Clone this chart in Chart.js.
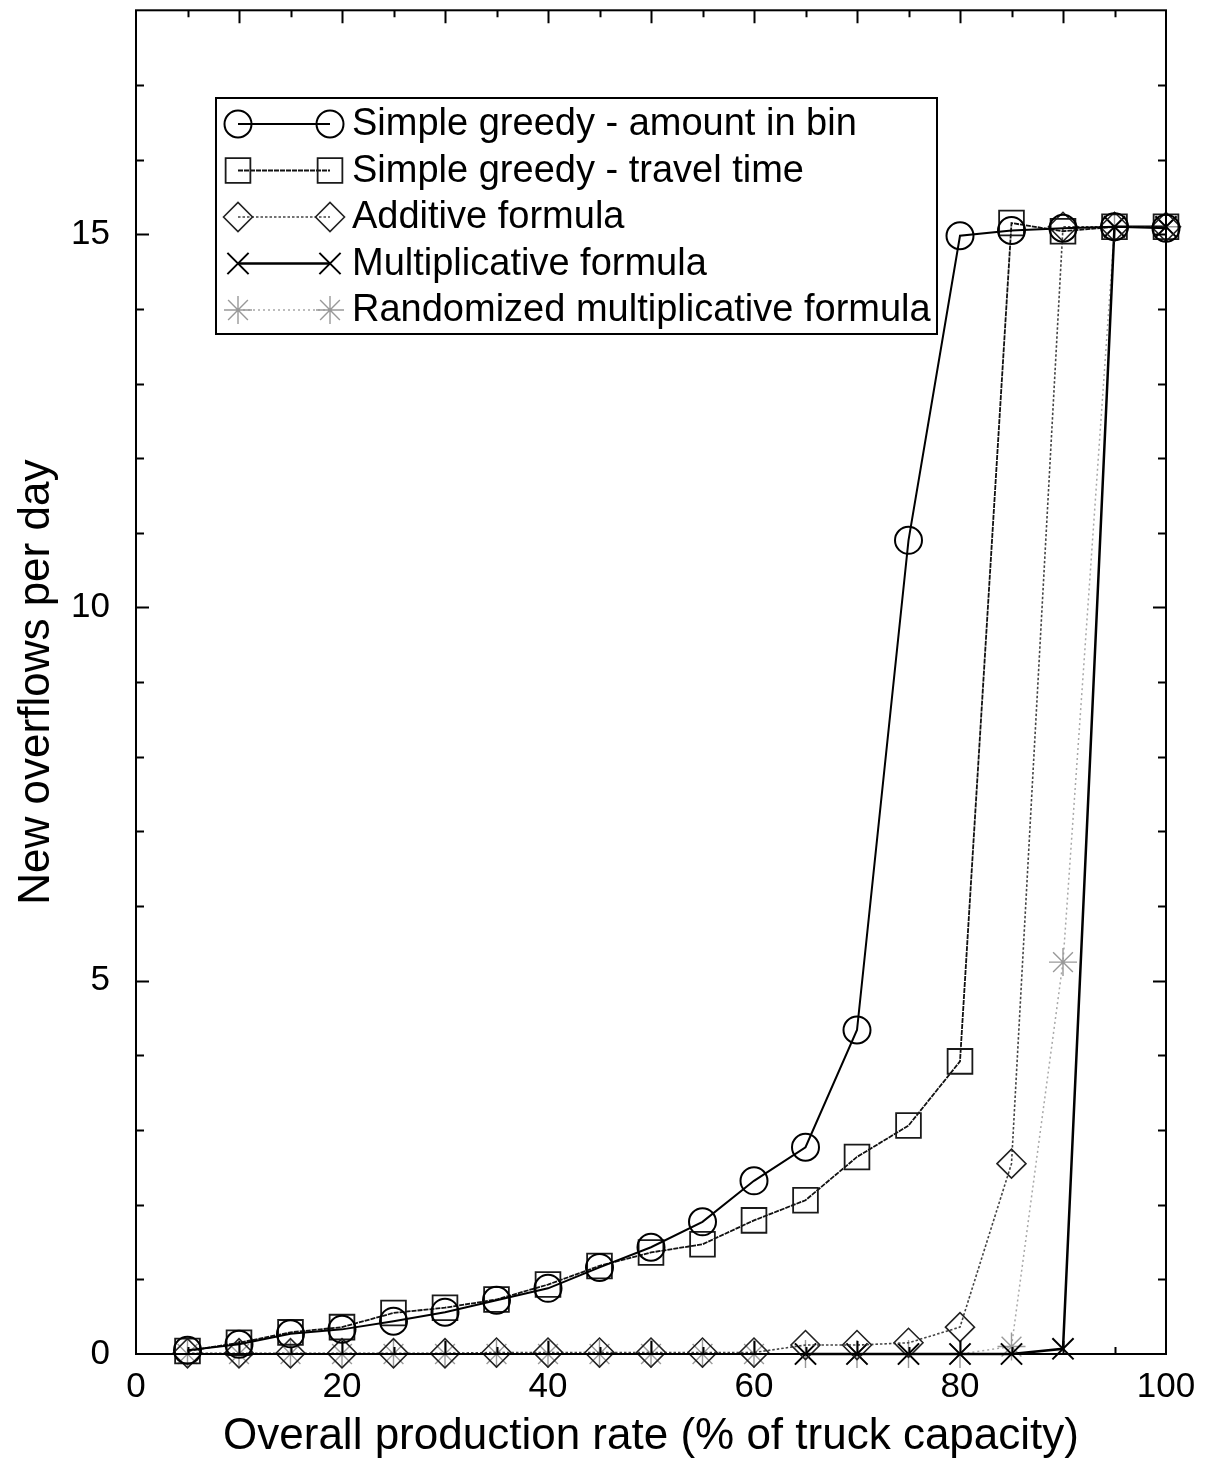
<!DOCTYPE html>
<html>
<head>
<meta charset="utf-8">
<title>New overflows per day</title>
<script src="https://cdn.jsdelivr.net/npm/chart.js@4.4.1/dist/chart.umd.min.js"></script>
<style>
  html, body { margin: 0; padding: 0; background: #fff; overflow: hidden; }
  /* Chart.js keeps 18px above the plot; pull the canvas up so the frame sits near the top */
  #chart { display: block; margin-top: -9px; }
</style>
</head>
<body>
<canvas id="chart" width="1211" height="1472"></canvas>
<script>
/* ── Data ───────────────────────────────────────────────────── */
/* Production rate in % of truck capacity */
const rates = [5, 10, 15, 20, 25, 30, 35, 40, 45, 50, 55, 60, 65, 70, 75, 80, 85, 90, 95, 100];

/* New overflows per day for each strategy */
const greedyAmount = [0.05, 0.13, 0.27, 0.33, 0.44, 0.56, 0.72, 0.88, 1.16, 1.43,
                      1.77, 2.32, 2.77, 4.34, 10.9, 14.98, 15.05, 15.08, 15.1, 15.08];
const greedyTravel = [0.04, 0.15, 0.29, 0.36, 0.55, 0.62, 0.73, 0.93, 1.18, 1.36,
                      1.47, 1.79, 2.06, 2.64, 3.06, 3.92, 15.15, 15.04, 15.1, 15.1];
const additive     = [0.01, 0.01, 0.01, 0.01, 0.01, 0.01, 0.02, 0.02, 0.02, 0.02,
                      0.02, 0.02, 0.12, 0.12, 0.15, 0.36, 2.55, 15.1, 15.1, 15.1];
const multiplicative = [null, null, null, null, null, null, null, null, null, null,
                        null, null, 0, 0, 0, 0, 0, 0.07, 15.1, 15.1];
const randomizedMult = [0, 0, 0, 0, 0, 0, 0, 0, 0, 0,
                        0, 0, 0, 0, 0, 0, 0.1, 5.25, 15.1, 15.1];

const seriesLabels = [
  "Simple greedy - amount in bin",
  "Simple greedy - travel time",
  "Additive formula",
  "Multiplicative formula",
  "Randomized multiplicative formula",
];

/* Axis ticks */
const xTickLabels = [0, 20, 40, 60, 80, 100];
const yTickLabels = [0, 5, 10, 15];

const FONT = "'Liberation Sans', Arial, Helvetica, sans-serif";
const SHIFT = 9; /* canvas is pulled up by this much */

/* ── Inward ticks + frame, gnuplot style ────────────────────── */
const framePlugin = {
  id: "frame",
  afterDatasetsDraw(chart) {
    const { ctx, chartArea: a, scales: { x, y } } = chart;
    ctx.save();
    ctx.strokeStyle = "#000";
    ctx.lineWidth = 2;
    ctx.beginPath();
    /* x ticks every 5, long ones every 10 */
    for (let v = 5; v < 100; v += 5) {
      const px = Math.round(x.getPixelForValue(v)) + 0.5;
      const len = v % 10 === 0 ? 13 : 7;
      ctx.moveTo(px, a.bottom); ctx.lineTo(px, a.bottom - len);
      ctx.moveTo(px, a.top);    ctx.lineTo(px, a.top + len);
    }
    /* y ticks every 1, long ones every 5 */
    for (let v = 1; v < 18; v++) {
      const py = Math.round(y.getPixelForValue(v)) + 0.5;
      const len = v % 5 === 0 ? 13 : 8;
      ctx.moveTo(a.left, py);  ctx.lineTo(a.left + len, py);
      ctx.moveTo(a.right, py); ctx.lineTo(a.right - len, py);
    }
    ctx.stroke();
    ctx.strokeRect(a.left, a.top, a.right - a.left, a.bottom - a.top);
    ctx.restore();
  },
};

/* ── Boxed legend inside the plot ───────────────────────────── */
const legendBox = {
  id: "legendBox",
  afterDraw(chart) {
    const ctx = chart.ctx;
    const box = { x: 216, y: 98 + SHIFT, w: 721, h: 236 };
    ctx.save();
    ctx.fillStyle = "#fff";
    ctx.fillRect(box.x, box.y, box.w, box.h);
    ctx.strokeStyle = "#000";
    ctx.lineWidth = 2;
    ctx.strokeRect(box.x, box.y, box.w, box.h);

    chart.data.datasets.forEach((ds, i) => {
      const rowY = 124 + SHIFT + i * 46.5;
      const x0 = 238, x1 = 330;
      ctx.save();
      ctx.strokeStyle = ds.borderColor;
      ctx.lineWidth = ds.borderWidth;
      ctx.setLineDash(ds.borderDash || []);
      ctx.beginPath();
      ctx.moveTo(x0, rowY);
      ctx.lineTo(x1, rowY);
      ctx.stroke();
      ctx.restore();

      [x0, x1].forEach((px) => {
        ctx.save();
        ctx.strokeStyle = ds.pointBorderColor;
        ctx.fillStyle = "rgba(0,0,0,0)";
        ctx.lineWidth = ds.pointBorderWidth;
        Chart.helpers.drawPoint(ctx, {
          pointStyle: ds.pointStyle,
          radius: ds.pointRadius,
          rotation: 0,
          borderWidth: ds.pointBorderWidth,
        }, px, rowY);
        ctx.restore();
      });

      ctx.fillStyle = "#000";
      ctx.font = "38px " + FONT;
      ctx.textBaseline = "middle";
      ctx.textAlign = "left";
      ctx.fillText(ds.label, 352, rowY + 1);
    });
    ctx.restore();
  },
};

/* ── Dataset factory ────────────────────────────────────────── */
function series(label, values, style) {
  return Object.assign({
    label,
    data: rates.map((r, i) => ({ x: r, y: values[i] })),
    backgroundColor: "rgba(0,0,0,0)",
    pointBackgroundColor: "rgba(0,0,0,0)",
    fill: false,
    tension: 0,
    spanGaps: false,
    clip: false,
  }, style);
}

const datasets = [
  series(seriesLabels[0], greedyAmount, {
    borderColor: "#000", borderWidth: 2,
    pointStyle: "circle", pointRadius: 13.5,
    pointBorderColor: "#000", pointBorderWidth: 2,
  }),
  series(seriesLabels[1], greedyTravel, {
    borderColor: "#111", borderWidth: 1.8, borderDash: [5, 1],
    pointStyle: "rect", pointRadius: 17.5,
    pointBorderColor: "#1a1a1a", pointBorderWidth: 1.8,
  }),
  series(seriesLabels[2], additive, {
    borderColor: "#444", borderWidth: 1.6, borderDash: [2.5, 2],
    pointStyle: "rectRot", pointRadius: 14.5,
    pointBorderColor: "#222", pointBorderWidth: 1.6,
  }),
  series(seriesLabels[3], multiplicative, {
    borderColor: "#000", borderWidth: 2.5,
    pointStyle: "crossRot", pointRadius: 15,
    pointBorderColor: "#000", pointBorderWidth: 2,
  }),
  series(seriesLabels[4], randomizedMult, {
    borderColor: "#a8a8a8", borderWidth: 1.5, borderDash: [2, 3],
    pointStyle: "star", pointRadius: 14,
    pointBorderColor: "#999", pointBorderWidth: 1.4,
  }),
];

/* drop the label overhang padding Chart.js reserves around the axes */
function noPadding(s) {
  s.paddingTop = 0;
  s.paddingBottom = 0;
  s.paddingLeft = 0;
  s.paddingRight = 0;
}

/* ── Chart ──────────────────────────────────────────────────── */
new Chart(document.getElementById("chart"), {
  type: "line",
  data: { datasets },
  plugins: [framePlugin, legendBox],
  options: {
    responsive: false,
    animation: false,
    events: [],
    layout: { padding: { top: 0, right: 45, left: 0, bottom: 0 } },
    plugins: {
      legend: { display: false },
      tooltip: { enabled: false },
    },
    scales: {
      x: {
        type: "linear",
        min: 0,
        max: 100,
        afterBuildTicks: (s) => { s.ticks = xTickLabels.map((v) => ({ value: v })); },
        afterFit: (s) => { s.height = 109; noPadding(s); },
        grid: { display: false, drawTicks: false },
        border: { display: false },
        ticks: {
          color: "#000",
          padding: 12,
          maxRotation: 0,
          autoSkip: false,
          font: { family: FONT, size: 35 },
        },
        title: {
          display: true,
          text: "Overall production rate (% of truck capacity)",
          color: "#000",
          padding: { top: 0, bottom: 0 },
          font: { family: FONT, size: 44 },
        },
      },
      y: {
        type: "linear",
        min: 0,
        max: 18,
        afterBuildTicks: (s) => { s.ticks = yTickLabels.map((v) => ({ value: v })); },
        afterFit: (s) => { s.width = 136; noPadding(s); },
        grid: { display: false, drawTicks: false },
        border: { display: false },
        ticks: {
          color: "#000",
          padding: 26,
          autoSkip: false,
          font: { family: FONT, size: 35 },
        },
        title: {
          display: true,
          text: "New overflows per day",
          color: "#000",
          padding: { top: 10, bottom: 0 },
          font: { family: FONT, size: 44 },
        },
      },
    },
  },
});
</script>
</body>
</html>
